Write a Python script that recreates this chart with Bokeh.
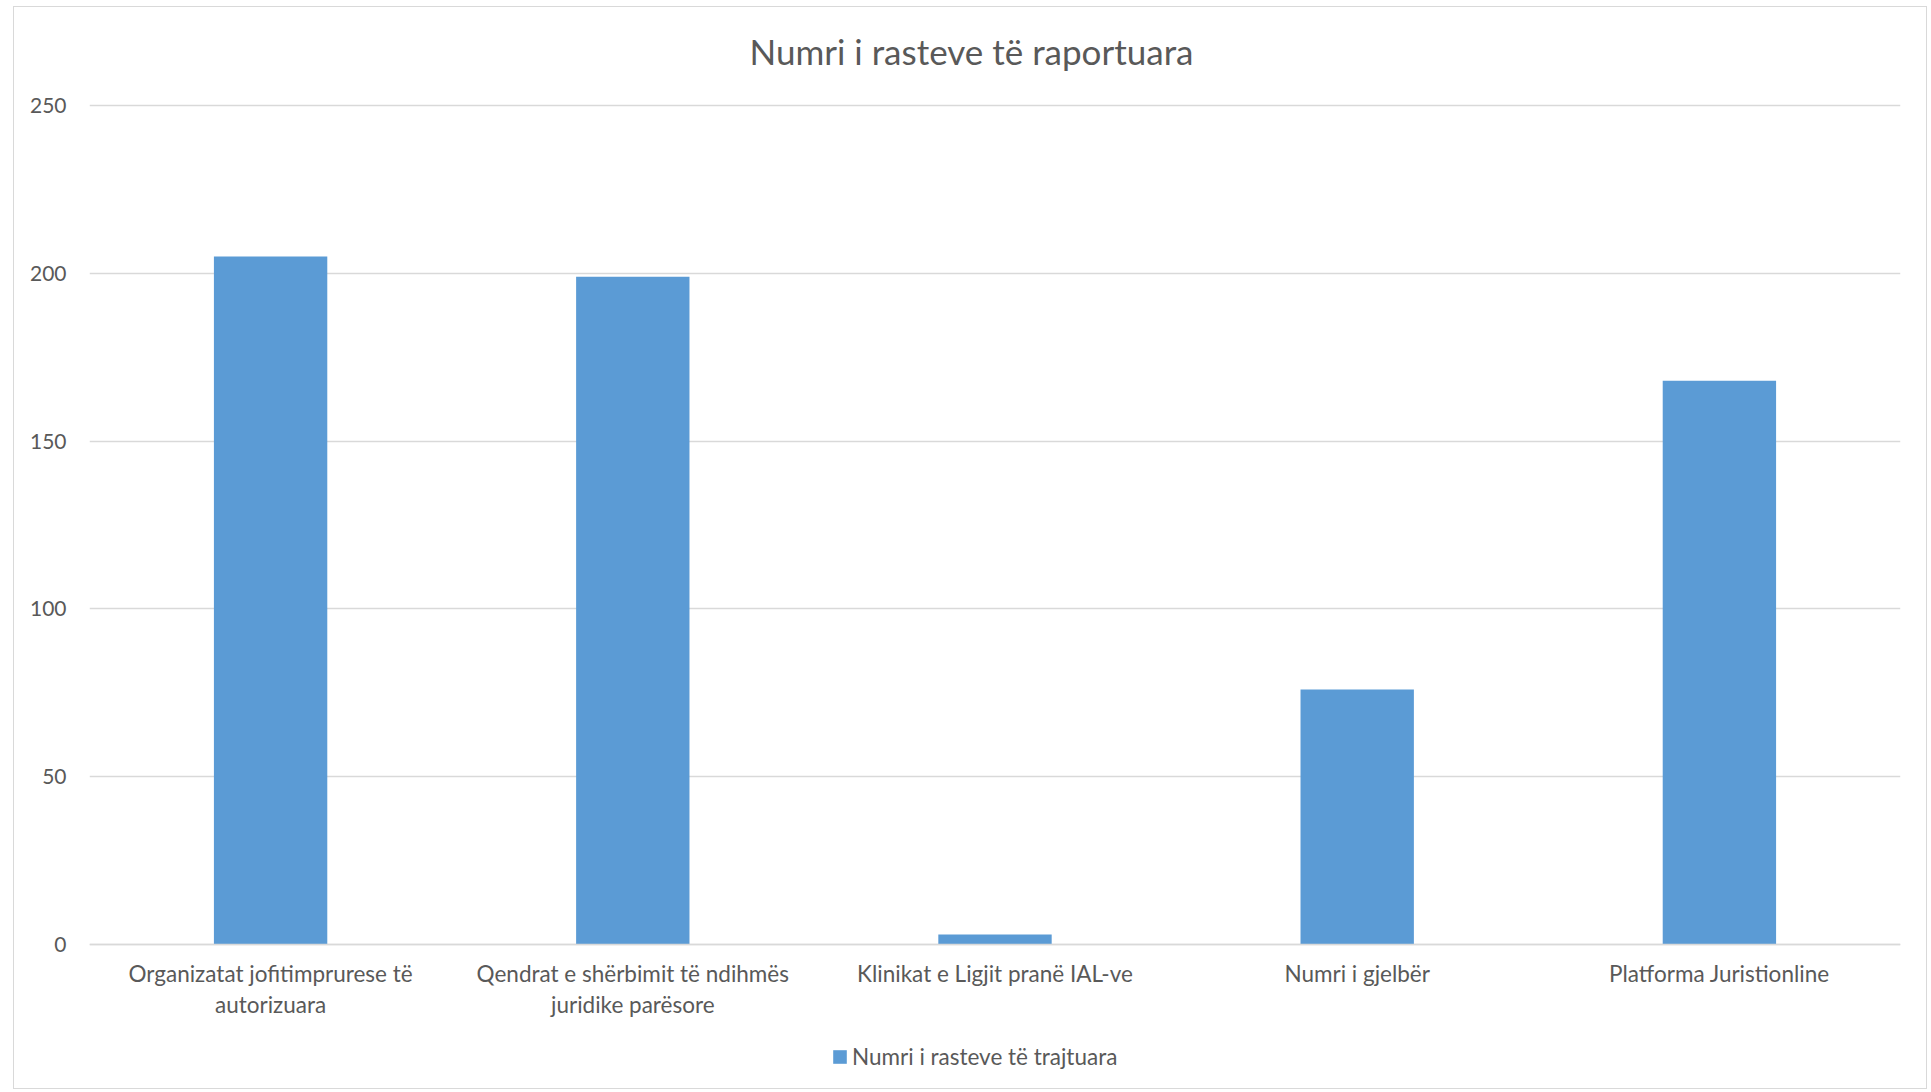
from bokeh.plotting import figure
from bokeh.models import Range1d, FactorRange, Legend, LegendItem, Label
from bokeh.embed import file_html
from bokeh.resources import INLINE

# Data (category names, with the line breaks used on the axis)
categories = [
    "Organizatat jofitimprurese të\nautorizuara",
    "Qendrat e shërbimit të ndihmës\njuridike parësore",
    "Klinikat e Ligjit pranë IAL-ve",
    "Numri i gjelbër",
    "Platforma Juristionline",
]
values = [205, 199, 3, 76, 168]
series_name = "Numri i rasteve të trajtuara"
title_text = "Numri i rasteve të raportuara"
y_ticks = [0, 50, 100, 150, 200, 250]

FONT = "Lato"
TXT = "#595959"
GRID = "#d9d9d9"
BAR = "#5b9bd5"

# layout (page pixels)
W, H = 1914, 1083
ORIGIN_X, ORIGIN_Y = 14, 7
ML, MR, MT, MB = 75, 28, 10, 5
FRAME_TOP = ORIGIN_Y + MT
FRAME_BOT = ORIGIN_Y + H - MB
Y0_PX, Y250_PX = 944, 105
PPU = (Y0_PX - Y250_PX) / 250.0
y_start = -(FRAME_BOT - Y0_PX) / PPU
y_end = 250 + (Y250_PX - FRAME_TOP) / PPU

p = figure(
    width=W, height=H,
    x_range=FactorRange(*categories, range_padding=0),
    y_range=Range1d(y_start, y_end),
    output_backend="svg", toolbar_location=None,
    min_border_left=ML, min_border_right=MR,
    min_border_top=MT, min_border_bottom=MB,
)
p.styles = {"border": "1px solid #d9d9d9", "margin-left": "13px", "margin-top": "6px"}
p.title.visible = False

r = p.vbar(x=categories, top=values, width=0.313, color=BAR, line_color=None)

p.outline_line_color = None
p.xgrid.grid_line_color = None
p.ygrid.grid_line_color = GRID
p.ygrid.grid_line_width = 1.5
p.yaxis.ticker = y_ticks
p.yaxis.axis_line_color = None
p.yaxis.major_tick_line_color = None
p.yaxis.minor_tick_line_color = None
p.yaxis.major_label_text_font = FONT
p.yaxis.major_label_text_font_size = "21px"
p.yaxis.major_label_text_color = TXT
p.yaxis.major_label_standoff = 17

xa = p.xaxis[0]
xa.fixed_location = 0
xa.axis_line_color = GRID
xa.axis_line_width = 1.5
xa.major_tick_line_color = None
xa.minor_tick_line_color = None
xa.major_label_text_font = FONT
xa.major_label_text_font_size = "22.5px"
xa.major_label_text_color = TXT
xa.major_label_text_line_height = 1.15
xa.major_label_standoff = 9

title = Label(
    x=971 - (ORIGIN_X + ML), y=FRAME_BOT - 50, x_units="screen", y_units="screen",
    text=title_text, text_align="center", text_baseline="middle",
    text_font=FONT, text_font_size="35px", text_color=TXT,
)
p.add_layout(title)

legend = Legend(
    items=[LegendItem(label=series_name, renderers=[r])],
    location=(831 - (ORIGIN_X + ML), FRAME_BOT - 1070), orientation="horizontal",
    label_text_font=FONT, label_text_font_size="22.5px", label_text_color=TXT,
    glyph_width=17, glyph_height=17, label_standoff=4,
    padding=0, margin=0, border_line_color=None, background_fill_alpha=0,
)
p.add_layout(legend)

open("out.html", "w").write(file_html(p, INLINE))
